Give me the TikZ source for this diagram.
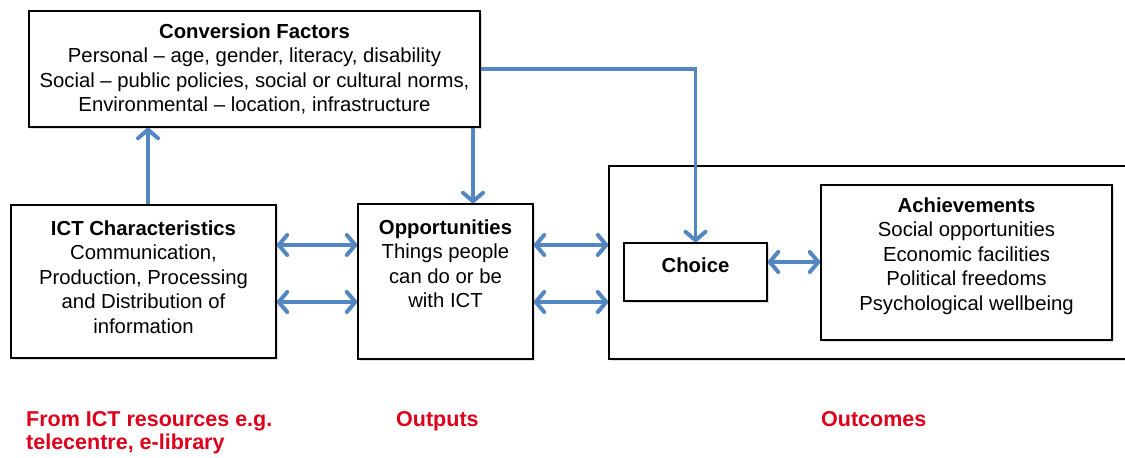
\documentclass[tikz,border=0pt]{standalone}
\usepackage{fontspec}
\setmainfont{Liberation Sans}
\usetikzlibrary{arrows.meta,shadows}
\definecolor{arrowblue}{RGB}{84,134,194}
\definecolor{labelred}{RGB}{222,0,26}
\tikzset{
  box/.style={draw=black, line width=1.4pt, fill=white, inner sep=0pt,
    drop shadow={shadow xshift=1.5pt, shadow yshift=-1.5pt, opacity=0.25}},
  boxtext/.style={anchor=north, align=center, inner sep=0pt,
    font=\fontsize{20.3}{24.5}\selectfont},
  tipb/.tip={Straight Barb[length=8.5pt,width=20pt,line width=0pt 1.25,round]},
  conn/.style={draw=arrowblue, line width=3.2pt, -tipb},
  dconn/.style={draw=arrowblue, line width=3.2pt, tipb-tipb},
  redlabel/.style={anchor=north west, align=left, inner sep=0pt, text=labelred,
    font=\fontsize{21.5}{23}\selectfont\bfseries}
}
\begin{document}
\begin{tikzpicture}[x=1pt,y=-1pt]
\useasboundingbox (0,0) rectangle (1125,458);
% boxes
\node[box, minimum width=451pt, minimum height=116pt] (conv) at (254.5,69) {};
\node[box, minimum width=265pt, minimum height=153pt] (ict) at (143.5,281.5) {};
\node[box, minimum width=175pt, minimum height=155pt] (opp) at (445.5,281.5) {};
\node[box, minimum width=530pt, minimum height=193pt] (outc) at (874,262.5) {};
\node[box, minimum width=143pt, minimum height=58pt] (choice) at (695.5,272) {};
\node[box, minimum width=291pt, minimum height=155pt] (ach) at (966.5,262.5) {};
% texts
\node[boxtext] (convt) at (254.5,23.5) {\textbf{Conversion Factors}\\
  Personal – age, gender, literacy, disability\\
  Social – public policies, social or cultural norms,\\
  Environmental – location, infrastructure};
\node[boxtext] (ictt) at (143.5,220.5) {\textbf{ICT Characteristics}\\
  Communication,\\ Production, Processing\\ and Distribution of\\ information};
\node[boxtext] (oppt) at (445.5,219.5) {\textbf{Opportunities}\\
  Things people\\ can do or be\\ with ICT};
\node[boxtext] (choicet) at (695.5,257.5) {\textbf{Choice}};
\node[boxtext] (acht) at (966.5,197.5) {\textbf{Achievements}\\
  Social opportunities\\ Economic facilities\\ Political freedoms\\ Psychological wellbeing};
% red labels
\node[redlabel] (lab1) at (26,411) {From ICT resources e.g.\\ telecentre, e-library};
\node[redlabel] (lab2) at (396,411) {Outputs};
\node[redlabel] (lab3) at (821,411) {Outcomes};
% helper coordinates
\coordinate (ya) at (0,245);
\coordinate (yb) at (0,302);
\coordinate (yc) at (0,262);
\coordinate (xa) at (148,0);
\coordinate (xb) at (473,0);
% connectors
\draw[conn] (ict.north -| xa) -- (conv.south -| xa);
\draw[conn] (conv.south -| xb) -- (opp.north -| xb);
\draw[conn] (conv.east) -| (choice.north);
\draw[dconn] (ict.east |- ya) -- (opp.west |- ya);
\draw[dconn] (ict.east |- yb) -- (opp.west |- yb);
\draw[dconn] (opp.east |- ya) -- (outc.west |- ya);
\draw[dconn] (opp.east |- yb) -- (outc.west |- yb);
\draw[dconn] (choice.east |- yc) -- (ach.west |- yc);
\end{tikzpicture}
\end{document}
